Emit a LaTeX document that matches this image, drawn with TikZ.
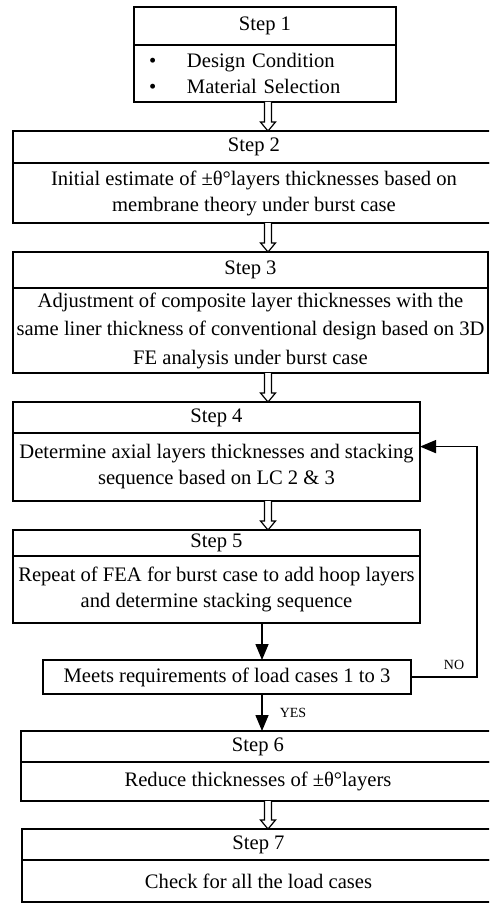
\documentclass[tikz,border=0pt]{standalone}
\usepackage{fontspec}
\setmainfont{Liberation Serif}
\usetikzlibrary{positioning,calc,arrows.meta}

\tikzset{
  stephead/.style={draw, line width=0.75pt, inner sep=0pt, outer sep=0pt,
    font=\fontsize{10.3}{13}\selectfont},
  stepbody/.style={stephead, align=center},
  flow/.style={line width=0.75pt, -{Triangle[length=8pt,width=6.5pt]}},
  tag/.style={font=\fontsize{7}{8}\selectfont, inner sep=0pt},
}

% open double-shaft arrow from one box down to the next
\newcommand{\hollowarrow}[2]{%
  \draw[line width=0.6pt, fill=white]
    let \p1=(#1.south -| spine), \p2=(#2.north -| spine) in
    (\x1-1.75pt,\y1) -- (\x1-1.75pt,\y2+4.5pt) -- (\x1-3.75pt,\y2+4.5pt)
    -- (\x2,\y2) -- (\x1+3.75pt,\y2+4.5pt) -- (\x1+1.75pt,\y2+4.5pt)
    -- (\x1+1.75pt,\y1);}

\begin{document}
\begin{tikzpicture}[x=0.5pt,y=-0.5pt]
    \useasboundingbox (0,0) rectangle (489,904);
    \clip (0,0) rectangle (489,904);

    % x positions of the arrows
    \coordinate (spine) at (268,0);
    \coordinate (trunk) at (262,0);
    \coordinate (back) at (477,0);

    % Step 1
    \node[stephead, minimum width=131pt, minimum height=19pt] (s1h) at (265,26) {Step 1};
    \node[stepbody, below=0pt of s1h, minimum height=28.5pt, text width=131pt-10.5pt,
      inner xsep=0pt, xshift=5.25pt, align=left, draw=none] (s1t)
      {\makebox[16pt][l]{\hspace{-3pt}\textbullet}Design Condition\\
       \makebox[16pt][l]{\hspace{-3pt}\textbullet}Material Selection};
    \node[stephead, below=0pt of s1h, minimum width=131pt, minimum height=28.5pt] (s1b) {};

    % Step 2
    \node[stephead, minimum width=241pt, minimum height=16pt] (s2h) at (254,147) {Step 2};
    \node[stepbody, below=0pt of s2h, minimum width=241pt, minimum height=30pt] (s2b)
      {Initial estimate of ±θ°layers thicknesses based on\\membrane theory under burst case};

    % Step 3
    \node[stephead, minimum width=237.5pt, minimum height=18pt] (s3h) at (250.5,270) {Step 3};
    \node[stepbody, below=0pt of s3h, minimum width=237.5pt, minimum height=42.5pt,
      font=\fontsize{10.3}{14.25}\selectfont] (s3b)
      {Adjustment of composite layer thicknesses with the\\
       same liner thickness of conventional design based on 3D\\
       FE analysis under burst case};

    % Step 4
    \node[stephead, minimum width=203.5pt, minimum height=15.5pt] (s4h) at (216.5,417.5) {Step 4};
    \node[stepbody, below=0pt of s4h, minimum width=203.5pt, minimum height=34pt] (s4b)
      {Determine axial layers thicknesses and stacking\\sequence based on LC 2 \& 3};

    % Step 5
    \node[stephead, minimum width=203.5pt, minimum height=13pt] (s5h) at (216.5,543) {Step 5};
    \node[stepbody, below=0pt of s5h, minimum width=203.5pt, minimum height=33.5pt] (s5b)
      {Repeat of FEA for burst case to add hoop layers\\and determine stacking sequence};

    % check
    \node[stephead, minimum width=184pt, minimum height=17pt] (meets) at (227,677)
      {Meets requirements of load cases 1 to 3};

    % Step 6
    \node[stephead, minimum width=237pt, minimum height=15.5pt] (s6h) at (258,746.5) {Step 6};
    \node[stepbody, below=0pt of s6h, minimum width=237pt, minimum height=19.5pt] (s6b)
      {Reduce thicknesses of ±θ°layers};

    % Step 7
    \node[stephead, minimum width=236.5pt, minimum height=15.5pt] (s7h) at (258.5,844.5) {Step 7};
    \node[stepbody, below=0pt of s7h, minimum width=236.5pt, minimum height=21pt] (s7b)
      {Check for all the load cases};

    \hollowarrow{s1b}{s2h}
    \hollowarrow{s2b}{s3h}
    \hollowarrow{s3b}{s4h}
    \hollowarrow{s4b}{s5h}
    \hollowarrow{s6b}{s7h}

    \draw[flow] (s5b.south -| trunk) -- (meets.north -| trunk);
    \draw[flow] (meets.south -| trunk) -- (s6h.north -| trunk);
    \node[tag] (yes) at (293,713) {YES};

    % back to Step 4 when requirements fail
    \coordinate (s4in) at ($(s4b.north east)!0.2!(s4b.south east)$);
    \draw[flow] (meets.east) -| (back |- s4in) -- (s4in);
    \node[tag] (no) at (454,665) {NO};
\end{tikzpicture}
\end{document}
